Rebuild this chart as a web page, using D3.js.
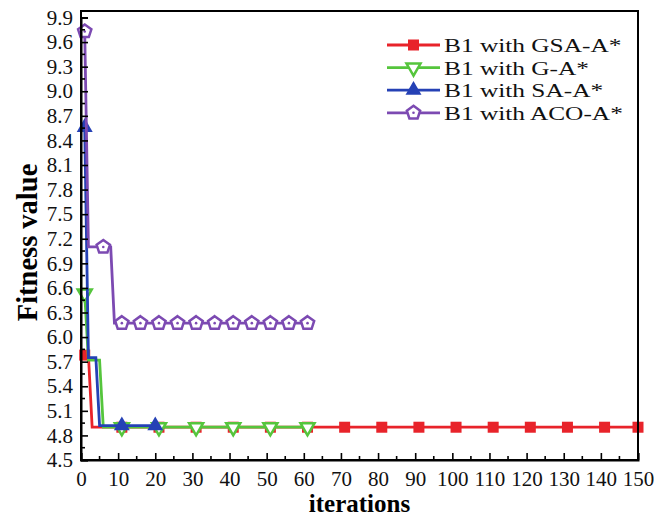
<!DOCTYPE html>
<html>
<head>
<meta charset="utf-8">
<script src="https://cdn.jsdelivr.net/npm/d3@7"></script>
<style>
  body { margin: 0; background: #fff; }
  svg text { font-family: "Liberation Serif", "Times New Roman", serif; }
</style>
</head>
<body>
<script>
// ---- data ----
const seriesNames = ["B1 with GSA-A*", "B1 with G-A*", "B1 with SA-A*", "B1 with ACO-A*"];

const gsaIter  = [1, 2, 3, 11, 21, 31, 41, 51, 61, 71, 81, 91, 101, 111, 121, 131, 141, 150];
const gsaValue = [5.78, 5.78, 4.9, 4.9, 4.9, 4.9, 4.9, 4.9, 4.9, 4.9, 4.9, 4.9, 4.9, 4.9, 4.9, 4.9, 4.9, 4.9];
const gsaMarks = [1, 11, 21, 31, 41, 51, 61, 71, 81, 91, 101, 111, 121, 131, 141, 150];

const gaIter  = [1, 2, 5, 6, 11, 21, 31, 41, 51, 61];
const gaValue = [6.53, 5.72, 5.72, 4.9, 4.9, 4.9, 4.9, 4.9, 4.9, 4.9];
const gaMarks = [1, 11, 21, 31, 41, 51, 61];

const saIter  = [1, 2, 4, 5, 11, 20];
const saValue = [8.56, 5.75, 5.75, 4.92, 4.92, 4.92];
const saMarks = [1, 11, 20];

const acoIter  = [1, 2, 6, 8, 9, 11, 16, 21, 26, 31, 36, 41, 46, 51, 56, 61];
const acoValue = [9.73, 7.1, 7.1, 7.1, 6.17, 6.17, 6.17, 6.17, 6.17, 6.17, 6.17, 6.17, 6.17, 6.17, 6.17, 6.17];
const acoMarks = [1, 6, 11, 16, 21, 26, 31, 36, 41, 46, 51, 56, 61];

const xTicks = [0, 10, 20, 30, 40, 50, 60, 70, 80, 90, 100, 110, 120, 130, 140, 150];
const yTicks = [4.5, 4.8, 5.1, 5.4, 5.7, 6.0, 6.3, 6.6, 6.9, 7.2, 7.5, 7.8, 8.1, 8.4, 8.7, 9.0, 9.3, 9.6, 9.9];

// ---- layout ----
const width = 654, height = 521;
const margin = { top: 11, right: 16, bottom: 61, left: 81 };

const x = d3.scaleLinear().domain([0, 150]).range([margin.left, width - margin.right]);
const y = d3.scaleLinear().domain([4.5, 9.9]).range([height - margin.bottom, margin.top + 6.5]);

const svg = d3.select("body").append("svg")
  .attr("width", width).attr("height", height);

const styles = [
  { color: "#e8232a", shape: "square" },
  { color: "#55c53c", shape: "tri-down" },
  { color: "#2541b5", shape: "tri-up" },
  { color: "#7c4ab2", shape: "pentagon" },
];

const series = [
  { iter: gsaIter, value: gsaValue, marks: gsaMarks },
  { iter: gaIter, value: gaValue, marks: gaMarks },
  { iter: saIter, value: saValue, marks: saMarks },
  { iter: acoIter, value: acoValue, marks: acoMarks },
];

function marker(sel, shape, color) {
  if (shape === "square") {
    sel.append("rect").attr("x", -5.5).attr("y", -5.5).attr("width", 11).attr("height", 11)
      .attr("fill", color);
  } else if (shape === "tri-down") {
    sel.append("path").attr("d", d3.symbol(d3.symbolTriangle, 85)())
      .attr("transform", "rotate(180)")
      .attr("fill", "#fff").attr("stroke", color).attr("stroke-width", 2.5);
  } else if (shape === "tri-up") {
    sel.append("path").attr("d", d3.symbol(d3.symbolTriangle, 110)())
      .attr("fill", color);
  } else {
    const r = 7;
    const pts = d3.range(5).map(i => {
      const a = -Math.PI / 2 + i * 2 * Math.PI / 5;
      return [r * Math.cos(a), r * Math.sin(a)];
    });
    sel.append("polygon").attr("points", pts.map(p => p.join(",")).join(" "))
      .attr("fill", "#fff").attr("stroke", color).attr("stroke-width", 2.5);
    sel.append("circle").attr("r", 1.3).attr("fill", color);
  }
}

// ---- series ----
const line = d3.line().x(d => x(d[0])).y(d => y(d[1]));

series.forEach((s, k) => {
  const pts = s.iter.map((it, i) => [it, s.value[i]]);
  const g = svg.append("g");
  g.append("path").attr("d", line(pts))
    .attr("fill", "none").attr("stroke", styles[k].color).attr("stroke-width", 2.8);
  pts.filter(p => s.marks.includes(p[0])).forEach(p => {
    const m = g.append("g").attr("transform", `translate(${x(p[0])},${y(p[1])})`);
    marker(m, styles[k].shape, styles[k].color);
  });
});

// ---- frame and axes ----
const x0 = margin.left, x1 = width - margin.right;
const y0 = height - margin.bottom, y1 = margin.top;
svg.append("rect").attr("x", x0).attr("y", y1).attr("width", x1 - x0).attr("height", y0 - y1)
  .attr("fill", "none").attr("stroke", "#000").attr("stroke-width", 2);

const xAxis = svg.append("g").attr("transform", `translate(0,${y0})`)
  .call(d3.axisBottom(x).tickValues(xTicks).tickSize(-7).tickPadding(14).tickFormat(d3.format("d")));
xAxis.append("g").selectAll("line").data(xTicks.slice(0, -1).map(t => t + 5)).join("line")
  .attr("x1", d => x(d)).attr("x2", d => x(d)).attr("y1", 0).attr("y2", -4)
  .attr("stroke", "#000").attr("stroke-width", 1.6);

const yAxis = svg.append("g").attr("transform", `translate(${x0},0)`)
  .call(d3.axisLeft(y).tickValues(yTicks).tickSize(-7).tickPadding(8).tickFormat(d3.format(".1f")));
yAxis.append("g").selectAll("line").data(yTicks.slice(0, -1).map(t => t + 0.15)).join("line")
  .attr("x1", 0).attr("x2", 4).attr("y1", d => y(d)).attr("y2", d => y(d))
  .attr("stroke", "#000").attr("stroke-width", 1.6);

[xAxis, yAxis].forEach(a => {
  a.select(".domain").attr("stroke-width", 2);
  a.selectAll(".tick line").attr("stroke-width", 1.6);
  a.selectAll("text").attr("font-family", "Liberation Serif").attr("font-size", 21).attr("fill", "#111");
});
xAxis.selectAll(".tick text").attr("dy", "0.55em");

svg.append("text").attr("x", (x0 + x1) / 2).attr("y", 512)
  .attr("text-anchor", "middle").attr("font-size", 25).attr("font-weight", "bold")
  .text("iterations");
svg.append("text").attr("transform", `translate(37,${(y0 + y1) / 2 + 7}) rotate(-90)`)
  .attr("text-anchor", "middle").attr("font-size", 28.5).attr("font-weight", "bold")
  .text("Fitness value");

// ---- legend ----
// the source's legend text is wider than plain Times, so it is stretched sideways
const legend = svg.append("g").attr("transform", "translate(387,45)");
seriesNames.forEach((name, k) => {
  const row = legend.append("g").attr("transform", `translate(0,${k * 22.6})`);
  row.append("line").attr("x1", 0).attr("x2", 53).attr("y1", 0).attr("y2", 0)
    .attr("stroke", styles[k].color).attr("stroke-width", 2.8);
  const m = row.append("g").attr("transform", "translate(26.5,0)");
  marker(m, styles[k].shape, styles[k].color);
  row.append("text").attr("transform", "translate(57,7) scale(1.3,1)")
    .attr("font-size", 19.5).attr("fill", "#111")
    .text(name);
});
</script>
</body>
</html>
